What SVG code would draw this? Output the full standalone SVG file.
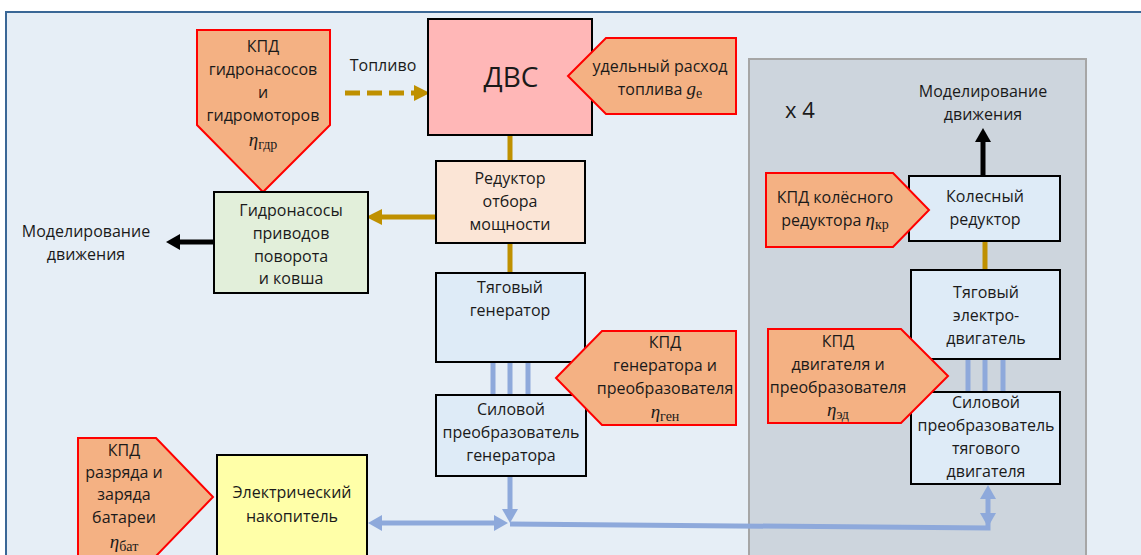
<svg xmlns="http://www.w3.org/2000/svg" width="1141" height="555" viewBox="0 0 1141 555">
<defs>
<style>
text{font-family:"Open Sans","Noto Sans","DejaVu Sans",sans-serif;font-size:16px;fill:#1a1a1a;text-anchor:middle}
.box{stroke:#000;stroke-width:2}
.kpd{fill:#F4B183;stroke:#FF0000;stroke-width:2}
.eta{font-family:"Liberation Serif","DejaVu Serif",serif;font-style:italic;font-size:19px}
.sub{font-family:"Liberation Serif","DejaVu Serif",serif;font-size:14px}
.gold{stroke:#BF9000;stroke-width:5;fill:none}
.blue{stroke:#8EA9DB;stroke-width:5;fill:none}
.blk{stroke:#000;stroke-width:5;fill:none}
</style>
<marker id="hg" markerUnits="userSpaceOnUse" markerWidth="16" markerHeight="16" viewBox="0 0 14 14" refX="1" refY="7" orient="auto-start-reverse"><path d="M0,0 L14,7 L0,14 z" fill="#BF9000"/></marker>
<marker id="hk" markerUnits="userSpaceOnUse" markerWidth="16" markerHeight="16" viewBox="0 0 14 16" refX="1" refY="8" orient="auto-start-reverse"><path d="M0,0 L14,8 L0,16 z" fill="#000"/></marker>
<marker id="hb" markerUnits="userSpaceOnUse" markerWidth="16" markerHeight="16" viewBox="0 0 14 16" refX="1" refY="8" orient="auto-start-reverse"><path d="M0,0 L14,8 L0,16 z" fill="#8EA9DB"/></marker>
</defs>
<rect x="0" y="0" width="1141" height="555" fill="#FFFFFF"/>
<rect x="6" y="12" width="1145" height="560" fill="#E6EEF6" stroke="#3A6796" stroke-width="2"/>
<g id="group-x4">
<rect x="749" y="59" width="337" height="510" fill="#CDD5DD" stroke="#A6A6A6" stroke-width="2"/>
<text x="785" y="118" style="font-size:22px;text-anchor:start">x 4</text>
</g>
<g id="connectors">
<line class="gold" x1="345" y1="93" x2="415" y2="93" stroke-dasharray="15,7" marker-end="url(#hg)"/>
<line class="gold" x1="510" y1="135" x2="510" y2="161"/>
<line class="gold" x1="436" y1="217" x2="381" y2="217" marker-end="url(#hg)"/>
<line class="gold" x1="510" y1="243" x2="510" y2="273"/>
<line class="blk" x1="214" y1="242" x2="179" y2="242" marker-end="url(#hk)"/>
<line class="blue" x1="493" y1="362" x2="493" y2="395"/>
<line class="blue" x1="510" y1="362" x2="510" y2="395"/>
<line class="blue" x1="528" y1="362" x2="528" y2="395"/>
<line class="gold" x1="985" y1="241" x2="985" y2="270"/>
<line class="blk" x1="983" y1="176" x2="983" y2="141" marker-end="url(#hk)"/>
<line class="blue" x1="968" y1="359" x2="968" y2="392"/>
<line class="blue" x1="985" y1="359" x2="985" y2="392"/>
<line class="blue" x1="1003" y1="359" x2="1003" y2="392"/>
<line class="blue" x1="510" y1="476" x2="510" y2="510" marker-end="url(#hb)"/>
<line class="blue" x1="381" y1="523" x2="495" y2="523" marker-start="url(#hb)" marker-end="url(#hb)"/>
<polyline class="blue" points="510,524 988,528 988,514"/>
<line class="blue" x1="988" y1="498" x2="988" y2="514" marker-start="url(#hb)" marker-end="url(#hb)"/>
</g>
<g id="dvs">
<rect class="box" x="428" y="19" width="164" height="116" fill="#FFB7B7"/>
<text x="511" y="87" style="font-size:28px">ДВС</text>
</g>
<g id="toplivo-label">
<text x="383" y="71">Топливо</text>
</g>
<g id="kpd-toplivo">
<polygon class="kpd" points="568,76 606,38 736,38 736,114 606,114"/>
<text x="660" y="72">удельный расход</text>
<text x="660" y="95">топлива <tspan class="eta">g</tspan><tspan class="sub" dy="3">e</tspan></text>
</g>
<g id="kpd-gidro">
<polygon class="kpd" points="197,30 330,30 330,125 263,192 197,125"/>
<text x="263" y="52">КПД</text>
<text x="263" y="75">гидронасосов</text>
<text x="263" y="98">и</text>
<text x="263" y="121">гидромоторов</text>
<text x="263" y="146"><tspan class="eta">η</tspan><tspan class="sub" dy="3">гдр</tspan></text>
</g>
<g id="gidronasosy">
<rect class="box" x="214" y="192" width="154" height="101" fill="#E2EFDA"/>
<text x="291" y="216">Гидронасосы</text>
<text x="291" y="239">приводов</text>
<text x="291" y="262">поворота</text>
<text x="291" y="284">и ковша</text>
</g>
<g id="model-left">
<text x="86" y="237">Моделирование</text>
<text x="86" y="260">движения</text>
</g>
<g id="reduktor">
<rect class="box" x="436" y="161" width="149" height="82" fill="#FBE5D6"/>
<text x="510" y="184">Редуктор</text>
<text x="510" y="207">отбора</text>
<text x="510" y="230">мощности</text>
</g>
<g id="generator">
<rect class="box" x="436" y="273" width="149" height="89" fill="#DEEBF7"/>
<text x="510" y="293">Тяговый</text>
<text x="510" y="316">генератор</text>
</g>
<g id="preobr-gen">
<rect class="box" x="436" y="395" width="150" height="81" fill="#DEEBF7"/>
<text x="511" y="415">Силовой</text>
<text x="511" y="438">преобразователь</text>
<text x="511" y="461">генератора</text>
</g>
<g id="kpd-gen">
<polygon class="kpd" points="556,378 602,331 736,331 736,425 602,425"/>
<text x="665" y="348">КПД</text>
<text x="665" y="371">генератора и</text>
<text x="665" y="394">преобразователя</text>
<text x="665" y="418"><tspan class="eta">η</tspan><tspan class="sub" dy="3">ген</tspan></text>
</g>
<g id="model-right">
<text x="983" y="97">Моделирование</text>
<text x="983" y="120">движения</text>
</g>
<g id="koles-reduktor">
<rect class="box" x="909" y="176" width="151" height="65" fill="#DEEBF7"/>
<text x="985" y="202">Колесный</text>
<text x="985" y="225">редуктор</text>
</g>
<g id="kpd-koles">
<polygon class="kpd" points="766,173 893,173 929,210 893,247 766,247"/>
<text x="835" y="203">КПД колёсного</text>
<text x="835" y="226">редуктора <tspan class="eta">η</tspan><tspan class="sub" dy="3">кр</tspan></text>
</g>
<g id="elektrodvigatel">
<rect class="box" x="911" y="270" width="149" height="89" fill="#DEEBF7"/>
<text x="986" y="298">Тяговый</text>
<text x="986" y="321">электро-</text>
<text x="986" y="344">двигатель</text>
</g>
<g id="preobr-dv">
<rect class="box" x="911" y="392" width="149" height="92" fill="#DEEBF7"/>
<text x="986" y="408">Силовой</text>
<text x="986" y="431">преобразователь</text>
<text x="986" y="454">тягового</text>
<text x="986" y="477">двигателя</text>
</g>
<g id="kpd-dv">
<polygon class="kpd" points="768,329 901,329 948,376 901,423 768,423"/>
<text x="838" y="347">КПД</text>
<text x="838" y="370">двигателя и</text>
<text x="838" y="393">преобразователя</text>
<text x="838" y="416"><tspan class="eta">η</tspan><tspan class="sub" dy="3">эд</tspan></text>
</g>
<g id="kpd-bat">
<polygon class="kpd" points="78,438 156,438 213,497 156,556 78,556"/>
<text x="124" y="456">КПД</text>
<text x="124" y="478">разряда и</text>
<text x="124" y="500">заряда</text>
<text x="124" y="523">батареи</text>
<text x="124" y="548"><tspan class="eta">η</tspan><tspan class="sub" dy="3">бат</tspan></text>
</g>
<g id="nakopitel">
<rect class="box" x="217" y="455" width="150" height="110" fill="#FFFFA8"/>
<text x="292" y="498">Электрический</text>
<text x="292" y="522">накопитель</text>
</g>
</svg>
